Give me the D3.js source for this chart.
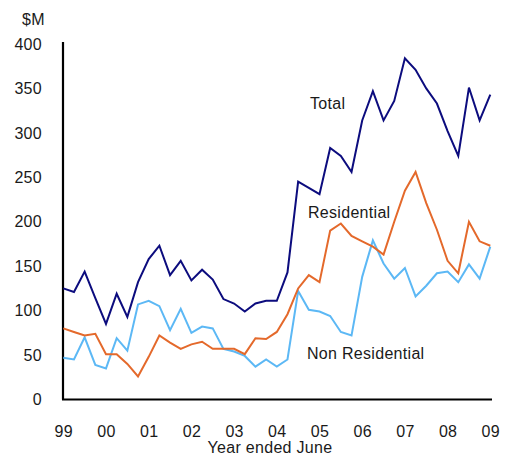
<!DOCTYPE html>
<html>
<head>
<meta charset="utf-8">
<script src="https://cdn.jsdelivr.net/npm/d3@7"></script>
<style>
  body { margin: 0; background: #fff; }
  svg text { font-family: "Liberation Sans", Arial, sans-serif; font-size: 16px; fill: #1a1a1a; letter-spacing: 0.3px; }
</style>
</head>
<body>
<svg id="chart"></svg>
<script>
// quarterly, June 1999 to June 2009 ($M)
const total = [125, 121, 144, 114, 85, 119, 93, 132, 158, 173,
  140, 156, 134, 146, 135, 113, 108, 99, 108, 111,
  111, 143, 245, 238, 231, 283, 274, 256, 314, 347,
  314, 336, 384, 371, 350, 333, 302, 274, 351, 314, 343];
const residential = [80, 76, 72, 74, 51, 51, 40, 26, 48, 72,
  64, 57, 62, 65, 57, 57, 57, 51, 69, 68,
  76, 96, 125, 140, 132, 190, 198, 184, 178, 172,
  163, 200, 235, 256, 221, 191, 156, 142, 200, 178, 173];
const nonResidential = [47, 45, 70, 39, 35, 69, 55, 107, 111, 105,
  78, 102, 75, 82, 80, 57, 54, 49, 37, 45,
  37, 45, 122, 101, 99, 94, 76, 72, 138, 179,
  153, 136, 148, 116, 128, 142, 144, 132, 152, 136, 172];
const yearLabels = ['99', '00', '01', '02', '03', '04', '05', '06', '07', '08', '09'];
const yTicks = [0, 50, 100, 150, 200, 250, 300, 350, 400];

const width = 510, height = 454;

const svg = d3.select('#chart')
    .attr('width', width)
    .attr('height', height);

const x = d3.scaleLinear()
    .domain([0, total.length - 1])
    .range([63.3, 490.3]);

const y = d3.scaleLinear()
    .domain([0, 400])
    .range([399.5, 44]);

// y axis
const yAxis = d3.axisLeft(y)
    .tickValues(yTicks)
    .tickSize(0)
    .tickPadding(21);

const gy = svg.append('g')
    .attr('transform', 'translate(63,0)')
    .call(yAxis);
gy.select('.domain').attr('stroke', '#000').attr('stroke-width', 2.2).attr('d', 'M0,42V399.5');
gy.selectAll('text').attr('fill', '#1a1a1a').style('font-size', '16px');

// x axis
const xAxis = d3.axisBottom(x)
    .tickValues(yearLabels.map((d, i) => i * 4))
    .tickFormat((d, i) => yearLabels[i])
    .tickSize(0)
    .tickPadding(26);

const gx = svg.append('g')
    .attr('transform', 'translate(0,399.5)')
    .call(xAxis);
gx.select('.domain').attr('stroke', '#000').attr('stroke-width', 2.2).attr('d', 'M62,0H492');
gx.selectAll('text').attr('fill', '#1a1a1a').style('font-size', '16px');

svg.append('text')
    .attr('x', 22)
    .attr('y', 25)
    .text('$M');

svg.append('text')
    .attr('x', 270)
    .attr('y', 452.5)
    .attr('text-anchor', 'middle')
    .text('Year ended June');

const line = d3.line()
    .x((d, i) => x(i))
    .y(d => y(d));

const series = [
  { values: nonResidential, color: '#5cb8f5', label: 'Non Residential', lx: 307, ly: 359 },
  { values: residential, color: '#e4692b', label: 'Residential', lx: 308, ly: 218 },
  { values: total, color: '#0c0c7e', label: 'Total', lx: 310, ly: 109 }
];

series.forEach(s => {
  svg.append('path')
      .datum(s.values)
      .attr('fill', 'none')
      .attr('stroke', s.color)
      .attr('stroke-width', 2)
      .attr('stroke-linejoin', 'miter')
      .attr('d', line);

  svg.append('text')
      .attr('x', s.lx)
      .attr('y', s.ly)
      .text(s.label);
});
</script>
</body>
</html>
